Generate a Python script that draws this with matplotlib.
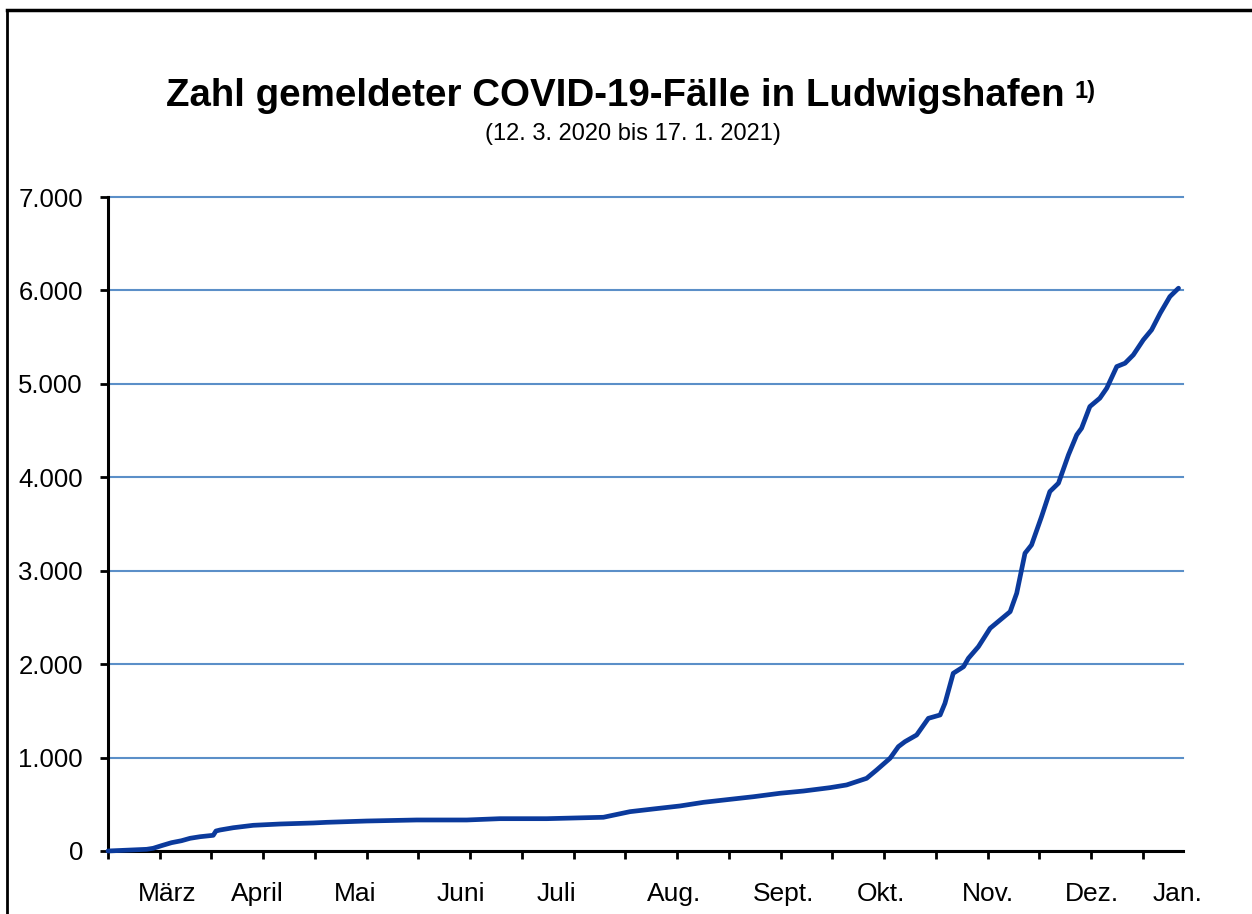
import matplotlib.pyplot as plt
from matplotlib.lines import Line2D

# Tage seit dem 12.3.2020 und kumulierte Fallzahlen
tage = [0, 11.2, 13.1, 15.5, 18.4, 21.3, 23.8, 26.7, 30.5, 31.3, 32.5, 36.3, 42.1,
        49.9, 59.5, 63.4, 75, 89.5, 104, 113.6, 127.2, 143.6, 151.3, 158.1, 165.8,
        172.6, 180.3, 187.1, 194.8, 201.6, 209.3, 214.1, 219.9, 222.8, 226.7, 229.1,
        231, 234.4, 237.8, 241.2, 242.6, 245, 248, 249.4, 252.3, 255.7, 261.5, 263.4,
        265.8, 267.7, 270.6, 273, 275.5, 278.4, 280.8, 282.2, 284.6, 287.5, 289.5,
        292.4, 294.8, 297.2, 300.1, 302.5, 305, 307.8, 310.3]
faelle = [0, 18, 29, 57, 89, 110, 136, 153, 168, 214, 225, 249, 275,
          289, 300, 307, 321, 332, 332, 346, 346, 361, 421, 450, 482,
          521, 553, 581, 618, 642, 678, 707, 778, 867, 993, 1117,
          1170, 1242, 1420, 1456, 1581, 1902, 1973, 2063, 2187, 2384, 2562, 2759,
          3187, 3276, 3579, 3847, 3937, 4240, 4454, 4525, 4757, 4847, 4954,
          5185, 5221, 5310, 5471, 5578, 5757, 5934, 6024]

monate = ["März", "April", "Mai", "Juni", "Juli", "Aug.", "Sept.", "Okt.", "Nov.", "Dez.", "Jan."]
monat_pos = [17.1, 43.2, 71.6, 102.3, 130.1, 164.1, 195.9, 224.1, 255.1, 285.3, 310.1]

y_ticks = [0, 1000, 2000, 3000, 4000, 5000, 6000, 7000]
y_labels = ["0", "1.000", "2.000", "3.000", "4.000", "5.000", "6.000", "7.000"]

plt.rcParams['font.family'] = ['Liberation Sans', 'DejaVu Sans']

W, H = 1252, 914
fig = plt.figure(figsize=(W / 100, H / 100), dpi=100)
ax = fig.add_axes([108 / W, 1 - 851 / H, 1075 / W, 654 / H])

ax.plot(tage, faelle, color='#0b3a9c', linewidth=3.4, solid_joinstyle='round',
        solid_capstyle='round', zorder=3, clip_on=False)

ax.set_xlim(0, 311.6)
ax.set_ylim(0, 7000)

# Gitternetz
ax.set_yticks(y_ticks)
ax.set_yticklabels(y_labels, fontsize=18.5)
ax.yaxis.grid(True, color='#5b8fc8', linewidth=1.5)
for gl in ax.get_ygridlines():
    gl.set_clip_on(False)
ax.set_axisbelow(True)

# Hauptstriche alle 15 Tage, Monatsnamen als Nebenstriche ohne Strich
ax.xaxis.remove_overlapping_locs = False
ax.set_xticks(list(range(0, 311, 15)))
ax.set_xticklabels([])
ax.set_xticks(monat_pos, minor=True)
ax.set_xticklabels(monate, minor=True, fontsize=19)
ax.tick_params(axis='x', which='minor', length=0, pad=22)
ax.tick_params(axis='x', which='major', length=6, width=2, direction='out')
ax.tick_params(axis='y', length=6, width=2, direction='out', pad=12)

for s in ['top', 'right']:
    ax.spines[s].set_visible(False)
for s in ['left', 'bottom']:
    ax.spines[s].set_linewidth(2.2)
    ax.spines[s].set_color('black')

# Titel
fig.text(166 / W, 1 - 106.5 / H, "Zahl gemeldeter COVID-19-Fälle in Ludwigshafen",
         fontsize=27.7, fontweight='bold', ha='left', va='baseline')
fig.text(1075 / W, 1 - 98 / H, "1)", fontsize=17, fontweight='bold', ha='left', va='baseline')
fig.text(633 / W, 1 - 140 / H, "(12. 3. 2020 bis 17. 1. 2021)", fontsize=17,
         ha='center', va='baseline')

# Rahmen
fig.add_artist(Line2D([7 / W, 7 / W], [0, 1 - 10 / H], color='black', linewidth=2,
                      transform=fig.transFigure))
fig.add_artist(Line2D([7 / W, 1], [1 - 10 / H, 1 - 10 / H], color='black', linewidth=2.5,
                      transform=fig.transFigure))

plt.savefig("out.png", dpi=100)
